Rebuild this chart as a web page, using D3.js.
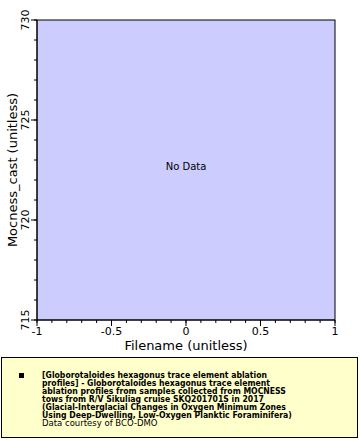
<!DOCTYPE html>
<html><head><meta charset="utf-8">
<script src="https://cdn.jsdelivr.net/npm/d3@7/dist/d3.min.js"></script>
<style>body{margin:0;background:#fff}svg{display:block;font-family:"DejaVu Sans",sans-serif}</style>
</head><body><div id="c"></div>
<script>
const xDomain = [-1, 1];
const yDomain = [715, 730];
const xTicks = [-1, -0.5, 0, 0.5, 1];
const xTickLabels = ["-1", "-0.5", "0", "0.5", "1"];
const yTicks = [715, 720, 725, 730];
const yTickLabels = ["715", "720", "725", "730"];
const xTitle = "Filename (unitless)";
const yTitle = "Mocness_cast (unitless)";
const noDataText = "No Data";
const legendLines = [
  "[Globorotaloides hexagonus trace element ablation",
  "profiles] - Globorotaloides hexagonus trace element",
  "ablation profiles from samples collected from MOCNESS",
  "tows from R/V Sikuliag cruise SKQ201701S in 2017",
  "(Glacial-Interglacial Changes in Oxygen Minimum Zones",
  "Using Deep-Dwelling, Low-Oxygen Planktic Foraminifera)"
];
const courtesy = "Data courtesy of BCO-DMO";

const W = 360, H = 440;
const m = {l: 37, t: 20, r: 335, b: 320};
const svg = d3.select("#c").append("svg").attr("width", W).attr("height", H);
const x = d3.scaleLinear().domain(xDomain).range([m.l, m.r]);
const y = d3.scaleLinear().domain(yDomain).range([m.b, m.t]);

svg.append("rect").attr("x", m.l).attr("y", m.t).attr("width", m.r - m.l).attr("height", m.b - m.t)
  .attr("fill", "#ccccff").attr("stroke", "#000").attr("stroke-width", 1);

// x axis
const xMinor = d3.range(-10, 11).map(i => i / 10);
const xa = svg.append("g").attr("transform", `translate(0,${m.b})`);
xa.append("line").attr("x1", m.l).attr("x2", m.r).attr("stroke", "#000");
xa.selectAll(".mn").data(xMinor).join("line").attr("x1", d => x(d)).attr("x2", d => x(d))
  .attr("y1", 0).attr("y2", 3).attr("stroke", "#000");
xa.selectAll(".mj").data(xTicks).join("line").attr("x1", d => x(d)).attr("x2", d => x(d))
  .attr("y1", 0).attr("y2", 6).attr("stroke", "#000");
xa.selectAll("text").data(xTicks).join("text").attr("x", d => x(d)).attr("y", 15)
  .attr("text-anchor", "middle").attr("font-size", 11).text((d, i) => xTickLabels[i]);

// y axis
const yMinor = d3.range(715, 731);
const ya = svg.append("g").attr("transform", `translate(${m.l},0)`);
ya.append("line").attr("y1", m.t).attr("y2", m.b).attr("stroke", "#000");
ya.selectAll(".mn").data(yMinor).join("line").attr("y1", d => y(d)).attr("y2", d => y(d))
  .attr("x1", 0).attr("x2", -3).attr("stroke", "#000");
ya.selectAll(".mj").data(yTicks).join("line").attr("y1", d => y(d)).attr("y2", d => y(d))
  .attr("x1", 0).attr("x2", -6).attr("stroke", "#000");
ya.selectAll("text").data(yTicks).join("text")
  .attr("transform", d => `translate(-8,${y(d)}) rotate(-90)`)
  .attr("text-anchor", "middle").attr("font-size", 11).text((d, i) => yTickLabels[i]);

svg.append("text").attr("x", (m.l + m.r) / 2).attr("y", 350).attr("text-anchor", "middle")
  .attr("font-size", 13).text(xTitle);
svg.append("text").attr("transform", `translate(17,${(m.t + m.b) / 2}) rotate(-90)`)
  .attr("text-anchor", "middle").attr("font-size", 13).text(yTitle);

svg.append("text").attr("x", x(0)).attr("y", y(722.5)).attr("text-anchor", "middle")
  .attr("font-size", 10).text(noDataText);

// legend
svg.append("rect").attr("x", 1.5).attr("y", 357.5).attr("width", 356).attr("height", 80)
  .attr("fill", "#ffffcc").attr("stroke", "#000");
svg.append("rect").attr("x", 19).attr("y", 373).attr("width", 5).attr("height", 5).attr("fill", "#000");
const lg = svg.append("text").attr("font-size", 8.5);
legendLines.forEach((t, i) => {
  const el = lg.append("tspan").attr("x", 42).attr("y", 378 + i * 8).attr("font-weight", "bold").text(t);
  const len = el.node().getComputedTextLength();
  el.attr("textLength", len * 0.91).attr("lengthAdjust", "spacingAndGlyphs");
});
lg.append("tspan").attr("x", 42).attr("y", 378 + 6 * 8).attr("font-size", 8.5).text(courtesy);
</script></body></html>
